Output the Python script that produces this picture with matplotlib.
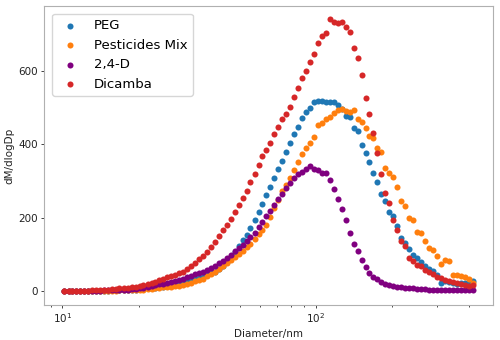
import matplotlib
matplotlib.use("Agg")
import matplotlib.pyplot as plt

# SMPS channel midpoints (nm)
diameter = [10.2, 10.6, 10.9, 11.3, 11.8, 12.2, 12.6, 13.1, 13.6, 14.1,
            14.6, 15.1, 15.7, 16.3, 16.8, 17.5, 18.1, 18.8, 19.5, 20.2,
            20.9, 21.7, 22.5, 23.3, 24.1, 25.0, 25.9, 26.9, 27.9, 28.9,
            30.0, 31.1, 32.2, 33.4, 34.6, 35.9, 37.2, 38.5, 40.0, 41.4,
            42.9, 44.5, 46.1, 47.8, 49.6, 51.4, 53.3, 55.2, 57.3, 59.4,
            61.5, 63.8, 66.1, 68.5, 71.0, 73.7, 76.4, 79.1, 82.0, 85.1,
            88.2, 91.4, 94.7, 98.2, 101.8, 105.5, 109.4, 113.4, 117.6, 121.9,
            126.3, 131.0, 135.8, 140.7, 145.9, 151.2, 156.8, 162.5, 168.5, 174.7,
            181.1, 187.7, 194.6, 201.7, 209.1, 216.7, 224.7, 232.9, 241.4, 250.3,
            259.5, 269.0, 278.8, 289.0, 299.6, 310.6, 322.0, 333.8, 346.0, 358.7,
            371.8, 385.4, 399.5, 414.2]

peg = [0, 0, 0, 1, 1, 1, 1, 1, 2, 2,
       2, 2, 3, 3, 3, 4, 4, 5, 5, 6,
       7, 8, 9, 10, 11, 13, 15, 17, 19, 21,
       24, 27, 30, 33, 36, 40, 44, 49, 54, 60,
       68, 80, 93, 108, 123, 139, 154, 172, 193, 216,
       238, 261, 285, 308, 333, 355, 380, 405, 428, 448,
       473, 487, 498, 516, 518, 519, 516, 515, 516, 508,
       495, 477, 474, 444, 435, 398, 376, 351, 322, 297,
       265, 245, 217, 205, 179, 145, 131, 115, 100, 91,
       80, 70, 62, 55, 45, 24, 28, 25, 22, 20,
       22, 24, 26, 28]

pesticides_mix = [0, 0, 0, 0, 1, 1, 1, 1, 1, 2,
                  2, 2, 2, 2, 3, 3, 3, 4, 4, 4,
                  5, 6, 7, 8, 10, 11, 12, 13, 14, 15,
                  17, 20, 23, 27, 31, 35, 41, 47, 54, 62,
                  70, 78, 86, 94, 102, 111, 120, 130, 143, 155,
                  168, 181, 203, 226, 249, 272, 290, 308, 330, 353,
                  373, 390, 403, 421, 453, 458, 468, 474, 486, 494,
                  496, 492, 489, 494, 468, 462, 444, 424, 417, 390,
                  378, 335, 323, 311, 285, 246, 233, 199, 195, 162,
                  159, 136, 118, 113, 95, 74, 86, 82, 45, 45,
                  43, 38, 35, 23]

d24 = [1, 1, 1, 1, 1, 1, 2, 2, 2, 2,
       3, 3, 3, 4, 4, 5, 5, 6, 7, 8,
       10, 12, 14, 16, 19, 21, 24, 26, 29, 32,
       35, 38, 42, 46, 50, 54, 59, 64, 70, 76,
       83, 91, 100, 109, 118, 127, 136, 148, 160, 175,
       188, 204, 219, 236, 251, 265, 281, 295, 308, 320,
       326, 333, 340, 333, 329, 323, 322, 302, 278, 251,
       224, 193, 160, 129, 109, 86, 66, 50, 40, 35,
       26, 21, 17, 14, 12, 11, 10, 9, 8, 7,
       7, 6, 5, 5, 4, 4, 3, 3, 3, 3,
       3, 3, 4, 5]

dicamba = [1, 1, 1, 1, 2, 2, 2, 3, 3, 4,
           4, 5, 6, 7, 8, 9, 10, 11, 12, 14,
           16, 19, 22, 26, 30, 34, 38, 42, 45, 49,
           53, 60, 68, 77, 87, 97, 108, 120, 134, 150,
           166, 180, 198, 215, 236, 254, 274, 297, 320, 344,
           368, 385, 403, 428, 447, 468, 483, 502, 529, 553,
           580, 600, 623, 647, 676, 696, 703, 740, 733, 729,
           733, 719, 706, 663, 636, 588, 526, 482, 431, 377,
           320, 269, 240, 193, 168, 138, 124, 92, 84, 72,
           68, 59, 52, 46, 40, 36, 32, 28, 25, 22,
           20, 18, 14, 18]

labels = ["PEG", "Pesticides Mix", "2,4-D", "Dicamba"]
colors = ["tab:blue", "tab:orange", "purple", "tab:red"]

fig, ax = plt.subplots(figsize=(5, 3.4), dpi=100)
fig.subplots_adjust(left=0.088, right=0.986, top=0.983, bottom=0.103)

for series, lab, col in zip([peg, pesticides_mix, d24, dicamba], labels, colors):
    ax.scatter(diameter, series, s=19, color=col, label=lab, linewidths=0)

ax.set_xscale("log")
ax.set_yticks([0, 200, 400, 600])
ax.tick_params(labelsize=7.5, colors="#222222", length=2.5, width=0.6, pad=2)
ax.tick_params(which="minor", length=1.5, width=0.5)
for sp in ax.spines.values():
    sp.set_color("#b0b0b0")

ax.set_xlabel("Diameter/nm", fontsize=7.5, color="#222222", labelpad=3)
ax.set_ylabel("dM/dlogDp", fontsize=7.5, color="#222222", labelpad=3)
ax.legend(loc="upper left", fontsize=9.5, scatterpoints=1, borderaxespad=0.6)

fig.savefig("out.png")
